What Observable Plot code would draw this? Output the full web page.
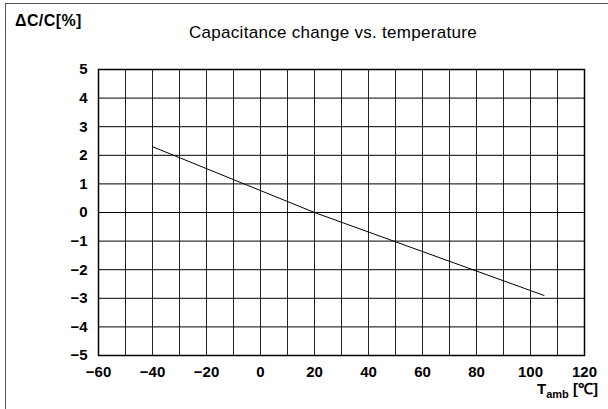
<!DOCTYPE html>
<html>
<head>
<meta charset="utf-8">
<script src="https://cdn.jsdelivr.net/npm/d3@7"></script>
<script src="https://cdn.jsdelivr.net/npm/@observablehq/plot@0.6"></script>
<style>
  html, body { margin: 0; padding: 0; background: #fff; }
  #wrap { position: relative; width: 608px; height: 409px; overflow: hidden; font-family: "Liberation Sans", Arial, sans-serif; }
  #border { position: absolute; left: 5px; top: 3px; width: 700px; height: 500px; border-left: 1.5px solid #555; border-top: 1.5px solid #555; }
  .lbl { position: absolute; white-space: nowrap; color: #000; line-height: 1; }
</style>
</head>
<body>
<div id="wrap">
  <div id="border"></div>
  <div id="chart" style="position:absolute;left:0;top:0;"></div>
  <div class="lbl" id="ylab" style="left:15px;top:13px;font-size:16px;font-weight:bold;letter-spacing:0.4px;">ΔC/C[%]</div>
  <div class="lbl" id="title" style="left:0;width:666px;text-align:center;top:24px;font-size:17px;letter-spacing:0.3px;">Capacitance change vs. temperature</div>
  <div class="lbl" id="xlab" style="left:537px;top:381px;font-size:15px;font-weight:bold;">T<span style="font-size:11px;position:relative;top:4px;">amb</span> [℃]</div>
</div>
<script>
// Data
const temps = [-40, 20, 105];
const dcc = [2.3, 0, -2.9];
const xTickLabels = [-60, -40, -20, 0, 20, 40, 60, 80, 100, 120];
const xGridTicks = [-60, -50, -40, -30, -20, -10, 0, 10, 20, 30, 40, 50, 60, 70, 80, 90, 100, 110, 120];
const yTickLabels = [-5, -4, -3, -2, -1, 0, 1, 2, 3, 4, 5];

const data = temps.map((t, i) => ({t, v: dcc[i]}));

const chart = Plot.plot({
  width: 608,
  height: 409,
  marginLeft: 98,
  marginRight: 24,
  marginTop: 69,
  marginBottom: 54,
  style: {background: "transparent", fontFamily: "'Liberation Sans', Arial, sans-serif", fontSize: "14px", color: "#000"},
  x: {domain: [-60, 120]},
  y: {domain: [-5, 5]},
  marks: [
    Plot.gridX(xGridTicks, {stroke: "#222", strokeOpacity: 1, strokeWidth: 1}),
    Plot.gridY(yTickLabels, {stroke: "#000", strokeOpacity: 1, strokeWidth: 1}),
    Plot.frame({stroke: "#000", strokeWidth: 1.5}),
    Plot.axisX(xTickLabels, {tickSize: 0, tickPadding: 11, fontWeight: "bold", fontSize: 15, label: null, tickFormat: d => d < 0 ? "\u2212" + Math.abs(d) : String(d)}),
    Plot.axisY(yTickLabels, {tickSize: 0, tickPadding: 11, fontWeight: "bold", fontSize: 15, label: null, tickFormat: d => d < 0 ? "\u2212" + Math.abs(d) : String(d)}),
    Plot.line(data, {x: "t", y: "v", stroke: "#000", strokeWidth: 1})
  ]
});
document.getElementById("chart").appendChild(chart);
</script>
</body>
</html>
